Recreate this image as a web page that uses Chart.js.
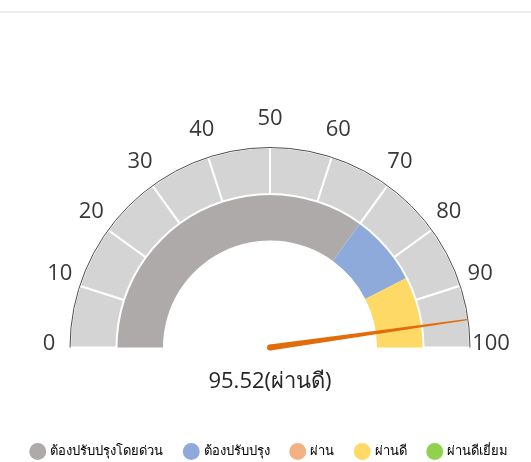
<!DOCTYPE html>
<html>
<head>
<meta charset="utf-8">
<script src="https://cdn.jsdelivr.net/npm/chart.js@4"></script>
<style>
  html, body { margin: 0; padding: 0; background: #fff; overflow: hidden; }
  #wrap { position: relative; width: 531px; height: 462px; }
  #topline { position: absolute; left: 0; top: 11px; width: 531px; height: 2px; background: #ececec; }
</style>
</head>
<body>
<div id="wrap">
  <div id="topline"></div>
  <canvas id="myChart" width="531" height="462"></canvas>
</div>
<script>
// gauge scale (outer ring)
const scaleSteps = [10, 10, 10, 10, 10, 10, 10, 10, 10, 10];
const tickLabels = ['0', '10', '20', '30', '40', '50', '60', '70', '80', '90', '100'];

// grade bands (inner ring)
const bandNames = ['ต้องปรับปรุงโดยด่วน', 'ต้องปรับปรุง', 'ผ่าน', 'ผ่านดี', 'ผ่านดีเยี่ยม'];
const bandSizes = [70, 15, 0, 15, 0];
const bandColors = ['#aeaaaa', '#8eaadb', '#f4b183', '#ffd966', '#92d050'];

// needle
const gaugeValue = 95.52;
const gaugeText = '95.52(ผ่านดี)';

const maxValue = 100;
const textFont = '"Open Sans", "Noto Sans", sans-serif';

const gaugePlugin = {
    id: 'gauge',
    afterDatasetsDraw(chart) {
        const arc = chart.getDatasetMeta(0).data[0];
        const cx = arc.x, cy = arc.y, r = arc.outerRadius;
        const ctx = chart.ctx;
        ctx.save();

        // outer rim
        ctx.beginPath();
        ctx.arc(cx, cy, r, Math.PI, 2 * Math.PI);
        ctx.strokeStyle = '#4d4d4d';
        ctx.lineWidth = 1;
        ctx.stroke();

        // tick labels
        ctx.font = '22px ' + textFont;
        ctx.fillStyle = '#383838';
        ctx.textAlign = 'center';
        ctx.textBaseline = 'middle';
        tickLabels.forEach((t) => {
            const a = Math.PI - (Number(t) / maxValue) * Math.PI;
            ctx.fillText(t, cx + (r + 21) * Math.cos(a), cy - 4 - (r + 25) * Math.sin(a));
        });

        // needle
        const a = Math.PI - (gaugeValue / maxValue) * Math.PI;
        const len = r - 1;
        const tx = cx + len * Math.cos(a), ty = cy - len * Math.sin(a);
        const nx = Math.sin(a), ny = Math.cos(a);
        ctx.fillStyle = '#e36c0a';
        ctx.beginPath();
        ctx.moveTo(cx + nx * 3, cy + ny * 3);
        ctx.lineTo(tx + nx * 0.6, ty + ny * 0.6);
        ctx.lineTo(tx - nx * 0.6, ty - ny * 0.6);
        ctx.lineTo(cx - nx * 3, cy - ny * 3);
        ctx.closePath();
        ctx.fill();
        ctx.beginPath();
        ctx.arc(cx, cy, 3, 0, 2 * Math.PI);
        ctx.fill();

        // value text
        ctx.font = '22px ' + textFont;
        ctx.fillStyle = '#262626';
        ctx.fillText(gaugeText, cx, cy + 34);
        ctx.restore();
    }
};

const ctx = document.getElementById('myChart').getContext('2d');
const myChart = new Chart(ctx, {
    type: 'doughnut',
    data: {
        labels: bandNames,
        datasets: [{
            data: scaleSteps,
            backgroundColor: '#d4d4d4',
            borderColor: '#ffffff',
            borderWidth: 2
        }, {
            data: bandSizes,
            backgroundColor: bandColors,
            borderColor: '#ffffff',
            borderWidth: 0
        }]
    },
    options: {
        responsive: false,
        animation: false,
        rotation: -90,
        circumference: 180,
        radius: 200,
        cutout: '53.5%',
        layout: {
            padding: { top: 72, left: 9, right: 0, bottom: -6 }
        },
        plugins: {
            tooltip: { enabled: false },
            legend: {
                position: 'bottom',
                labels: {
                    usePointStyle: true,
                    pointStyle: 'circle',
                    boxWidth: 12,
                    boxHeight: 12,
                    padding: 22,
                    color: '#595959',
                    font: { size: 13, family: textFont },
                    generateLabels: () => bandNames.map((name, i) => ({
                        text: name,
                        fillStyle: bandColors[i],
                        strokeStyle: bandColors[i],
                        lineWidth: 0,
                        pointStyle: 'circle',
                        hidden: false,
                        index: i
                    }))
                }
            }
        }
    },
    plugins: [gaugePlugin]
});
</script>
</body>
</html>
